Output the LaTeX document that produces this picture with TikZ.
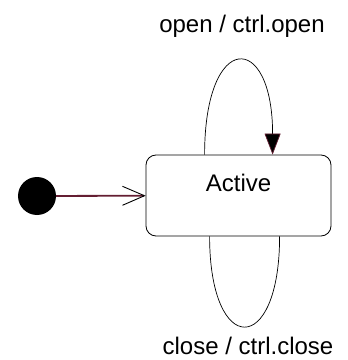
\documentclass[tikz,border=0pt]{standalone}
\usepackage{fontspec}
\setmainfont{Liberation Sans}
\usepackage{xcolor}
\usetikzlibrary{
    arrows.meta,
    positioning
}
\definecolor{kante}{RGB}{100,30,50}
\tikzstyle{zustand} = [
    draw,
    line width=0.8pt,
    rounded corners=10pt,
    minimum width=185pt,
    minimum height=81pt
]
\tikzstyle{schleife} = [
    line width=0.7pt
]

\begin{document}
\begin{tikzpicture}[x=1pt, y=1pt, font=\fontsize{24}{28}\selectfont]
% Rahmen
\useasboundingbox (0,0) rectangle (348,360);

% Startpunkt und Zustand
\node[circle, fill=black, minimum size=38pt, inner sep=0pt] (start) at (37,164) {};
\node[zustand, label={[anchor=center, yshift=-28pt]north:Active}] (active) at (238.5,164.5) {};

% Initialer Übergang
\draw[kante, line width=1.8pt,
    -{Straight Barb[length=22pt, width=19pt, color=black, line width=0.9pt]}]
    (start) -- (active);

% Schleife oben
\coordinate (oa) at ([xshift=59pt]active.north west);
\coordinate (oe) at ([xshift=127pt]active.north west);
\draw[schleife, -{Triangle[length=21pt, width=16pt, fill=black, color=kante]}]
    (oa) .. controls ++(0,124) and ++(0,124) .. (oe);
\node (openlbl) at (242,334) {open / ctrl.open};

% Schleife unten
\coordinate (ua) at ([xshift=64pt]active.south west);
\coordinate (ue) at ([xshift=134pt]active.south west);
\draw[schleife] (ua) .. controls ++(0,-121) and ++(0,-121) .. (ue);
\node (closelbl) at (248,14) {close / ctrl.close};
\end{tikzpicture}
\end{document}
